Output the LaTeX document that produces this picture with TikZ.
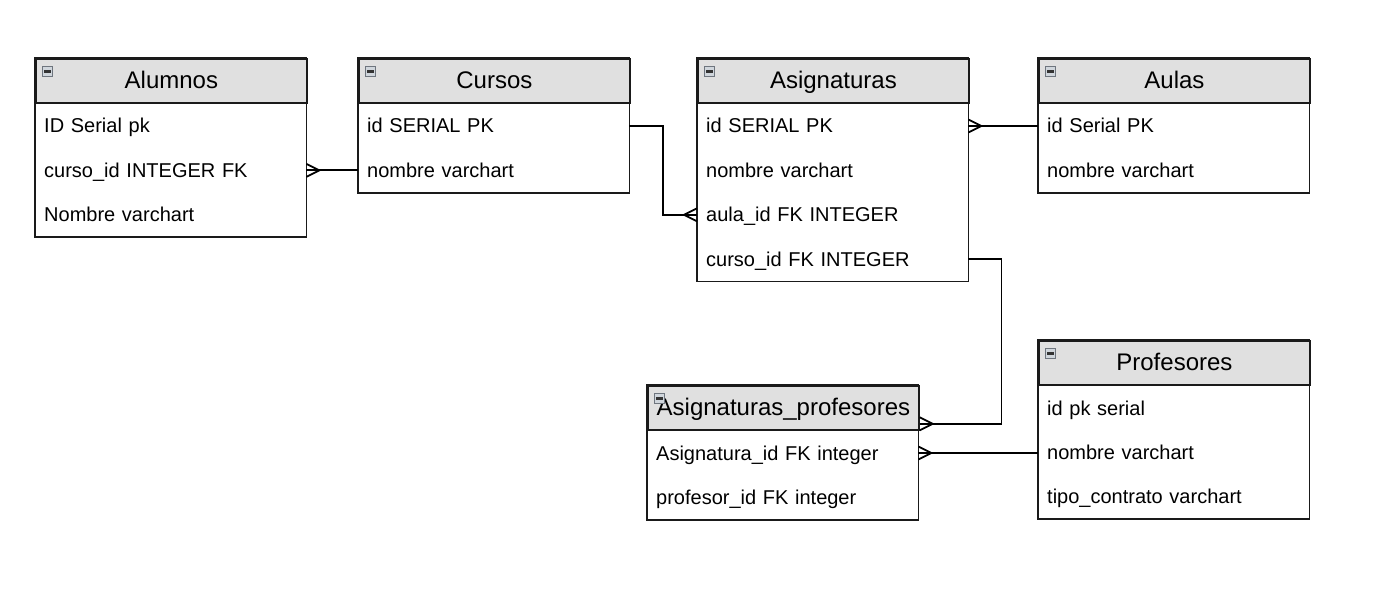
\documentclass[tikz,border=0pt]{standalone}
\usepackage{fontspec}
\setmainfont{Liberation Sans}
\usetikzlibrary{calc}
\definecolor{hd}{HTML}{E0E0E0}
\definecolor{bd}{HTML}{1A1A1A}
\definecolor{iconfill}{HTML}{D0D6DC}
\definecolor{iconbd}{HTML}{6E757E}
\newcommand{\rowfont}{\fontsize{20}{24}\selectfont}
\newcommand{\hdfont}{\fontsize{24}{28}\selectfont}
\newcommand{\crowR}[1]{\draw[conn] ([yshift=6.5pt]#1) -- ([xshift=13pt]#1) -- ([yshift=-6.5pt]#1);}
\newcommand{\crowL}[1]{\draw[conn] ([yshift=6.5pt]#1) -- ([xshift=-13pt]#1) -- ([yshift=-6.5pt]#1);}
\newcommand{\tblicon}[2]{%
  \node[iconbox] (#2) at ([xshift=12.5pt,yshift=-13.5pt]#1.north west) {};
  \draw[iconbar] ([xshift=-3.5pt]#2.center) -- ([xshift=3.5pt]#2.center);}
\begin{document}
\begin{tikzpicture}[x=1pt,y=-1pt,
  hdr/.style={draw=bd, fill=hd, line width=1.8pt, minimum width=271pt, minimum height=44pt,
    anchor=north west, inner sep=0pt, font=\hdfont, text height=16pt, text depth=0pt},
  fld/.style={minimum height=44pt, text width=253pt, inner xsep=9pt, inner ysep=0pt,
    anchor=north west, align=left, font=\rowfont, text height=14pt, text depth=0pt},
  frame/.style={draw=bd, line width=1.8pt},
  conn/.style={draw=black, line width=1.8pt},
  iconbox/.style={draw=iconbd, fill=iconfill, line width=1pt, minimum size=10pt, inner sep=0pt},
  iconbar/.style={draw=black!80, line width=2.2pt}]
\useasboundingbox (0,0) rectangle (1380,604);
\fill[white] (0,0) rectangle (1380,604);

% Alumnos
\node[hdr] (alH) at (35,58) {Alumnos};
\node[fld] (al1) at (alH.south west) {ID Serial pk};
\node[fld] (al2) at (al1.south west) {curso\_id INTEGER FK};
\node[fld] (al3) at (al2.south west) {Nombre varchart};
\draw[frame] (alH.north west) rectangle (al3.south east);
\tblicon{alH}{alI}

% Cursos
\node[hdr] (cuH) at (358,58) {Cursos};
\node[fld] (cu1) at (cuH.south west) {id SERIAL PK};
\node[fld] (cu2) at (cu1.south west) {nombre varchart};
\draw[frame] (cuH.north west) rectangle (cu2.south east);
\tblicon{cuH}{cuI}

% Asignaturas
\node[hdr] (asH) at (697,58) {Asignaturas};
\node[fld] (as1) at (asH.south west) {id SERIAL PK};
\node[fld] (as2) at (as1.south west) {nombre varchart};
\node[fld] (as3) at (as2.south west) {aula\_id FK INTEGER};
\node[fld] (as4) at (as3.south west) {curso\_id FK INTEGER};
\draw[frame] (asH.north west) rectangle (as4.south east);
\tblicon{asH}{asI}

% Aulas
\node[hdr] (auH) at (1038,58) {Aulas};
\node[fld] (au1) at (auH.south west) {id Serial PK};
\node[fld] (au2) at (au1.south west) {nombre varchart};
\draw[frame] (auH.north west) rectangle (au2.south east);
\tblicon{auH}{auI}

% Profesores
\node[hdr] (prH) at (1038,340) {Profesores};
\node[fld] (pr1) at (prH.south west) {id pk serial};
\node[fld] (pr2) at (pr1.south west) {nombre varchart};
\node[fld] (pr3) at (pr2.south west) {tipo\_contrato varchart};
\draw[frame] (prH.north west) rectangle (pr3.south east);
\tblicon{prH}{prI}

% Asignaturas_profesores
\node[hdr] (apH) at (647,385) {Asignaturas\_profesores};
\node[fld] (ap1) at (apH.south west) {Asignatura\_id FK integer};
\node[fld] (ap2) at (ap1.south west) {profesor\_id FK integer};
\draw[frame] (apH.north west) rectangle (ap2.south east);
\tblicon{apH}{apI}

% connectors
\draw[conn] (al2.east) -- (cu2.west);
\crowR{al2.east}

\coordinate (m1) at ($(cu1.east)!0.5!(as3.west)$);
\draw[conn] (cu1.east) -| (m1) |- (as3.west);
\crowL{as3.west}

\draw[conn] (as1.east) -- (au1.west);
\crowR{as1.east}

\coordinate (apIn) at ([yshift=7pt]apH.south east);
\coordinate (m2) at ([xshift=33pt]as4.east);
\draw[conn] (as4.east) -- (m2) |- (apIn);
\crowR{apIn}

\draw[conn] (ap1.east) -- (ap1.east -| pr2.west);
\crowR{ap1.east}
\end{tikzpicture}
\end{document}
